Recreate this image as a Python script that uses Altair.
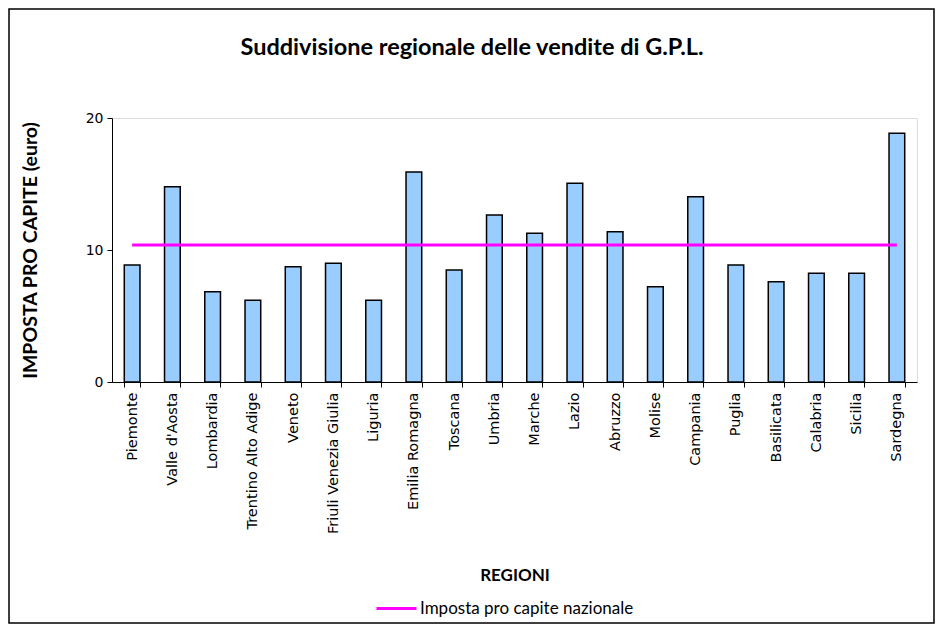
import altair as alt
import pandas as pd

regioni = ["Piemonte", "Valle d'Aosta", "Lombardia", "Trentino Alto Adige", "Veneto",
           "Friuli Venezia Giulia", "Liguria", "Emilia Romagna", "Toscana", "Umbria",
           "Marche", "Lazio", "Abruzzo", "Molise", "Campania", "Puglia", "Basilicata",
           "Calabria", "Sicilia", "Sardegna"]
imposta = [8.86, 14.8, 6.84, 6.2, 8.74, 9.0, 6.2, 15.9, 8.48, 12.65,
           11.26, 15.05, 11.39, 7.22, 14.04, 8.86, 7.6, 8.23, 8.23, 18.84]
nazionale_val = 10.38
nazionale_label = "Imposta pro capite nazionale"
titolo = "Suddivisione regionale delle vendite di G.P.L."

df = pd.DataFrame({"regione": regioni, "imposta": imposta,
                   "nazionale": [nazionale_val] * len(regioni),
                   "serie": [nazionale_label] * len(regioni)})

FONT = "Lato"
W, H = 805, 264
PAD = {"left": 104, "top": 110, "right": 18, "bottom": 242}

xscale = alt.Scale(domain=regioni, paddingInner=0.61, paddingOuter=0.305)

x = alt.X("regione:N", scale=xscale, sort=regioni,
          axis=alt.Axis(title="REGIONI", labelAngle=-90, labelFontSize=14.5,
                        labelFont="DejaVu Sans",
                        labelColor="black", tickBand="extent", tickSize=5, tickColor="black",
                        domainColor="black", labelPadding=5,
                        titleFont=FONT, titleFontSize=17, titleFontWeight="bold",
                        titleColor="black", titleY=193, titleBaseline="middle"))

bars = alt.Chart(df).mark_bar(color="#99CCFF", stroke="black", strokeWidth=1.5).encode(
    x=x,
    y=alt.Y("imposta:Q", scale=alt.Scale(domain=[0, 20]),
            axis=alt.Axis(title="IMPOSTA PRO CAPITE (euro)", values=[0, 10, 20], grid=False,
                          tickSize=5, tickColor="black", domainColor="black",
                          labelFont="DejaVu Sans", labelFontSize=14, labelColor="black",
                          labelPadding=4,
                          titleFont=FONT, titleFontSize=19.5, titleFontWeight="bold",
                          titleColor="black", titleX=-82, titleBaseline="middle")),
)

line = alt.Chart(df).mark_line(strokeWidth=3).encode(
    x=alt.X("regione:N", scale=xscale, sort=regioni),
    y=alt.Y("nazionale:Q"),
    color=alt.Color("serie:N",
                    scale=alt.Scale(domain=[nazionale_label], range=["#FF00FF"]),
                    legend=alt.Legend(title=None, orient="none", legendX=263, legendY=469,
                                      symbolType="stroke", symbolSize=1600,
                                      symbolStrokeWidth=3, labelFont=FONT,
                                      labelFontSize=17, labelColor="black",
                                      labelOffset=2, labelLimit=0)),
)

title = alt.Chart(alt.Data(values=[{"t": titolo}])).mark_text(
    font=FONT, fontSize=23.5, fontWeight="bold", color="black",
    align="center", baseline="middle").encode(
    text="t:N", x=alt.value(360), y=alt.value(-70),
)

border = alt.Chart(alt.Data(values=[{"a": 1}])).mark_rect(
    fill=None, stroke="black", strokeWidth=1.5).encode(
    x=alt.value(-PAD["left"] + 1), x2=alt.value(W + PAD["right"] - 1),
    y=alt.value(-PAD["top"] + 1), y2=alt.value(H + PAD["bottom"] - 1),
)

chart = alt.layer(bars, line, title, border).properties(
    width=W, height=H,
    autosize=alt.AutoSizeParams(type="none"),
    padding=PAD,
).configure_view(stroke="#888888", strokeWidth=1.5).configure(background="white")

chart.save("out.html", embed_options={"renderer": "svg", "actions": False})
